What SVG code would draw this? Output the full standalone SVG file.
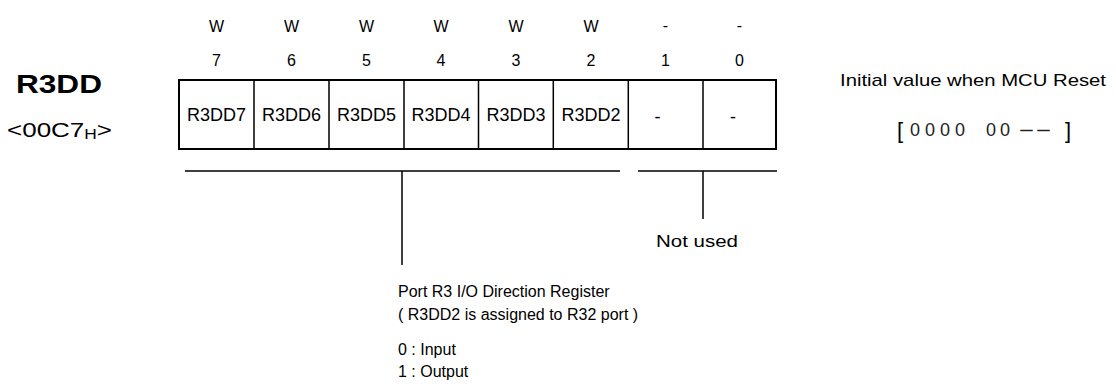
<svg xmlns="http://www.w3.org/2000/svg" width="1116" height="389" viewBox="0 0 1116 389">
<style>
text{font-family:"Liberation Sans",Arial,sans-serif;fill:#000}
.hdr{font-size:16px;text-anchor:middle}
.cell{font-size:18px;text-anchor:middle}
.lbl{font-size:16px}
.ln{stroke:#000;stroke-width:1.5;fill:none}
.box{stroke:#000;stroke-width:2;fill:#fff}
.val{font-size:18px;fill:#222}
</style>
<rect width="1116" height="389" fill="#fff"/>
<g id="title">
<text x="16" y="93" font-size="26" font-weight="bold" textLength="86" lengthAdjust="spacingAndGlyphs">R3DD</text>
<text x="7" y="137" font-size="21" textLength="105" lengthAdjust="spacingAndGlyphs">&lt;00C7<tspan font-size="14" dy="2">H</tspan><tspan dy="-2">&gt;</tspan></text>
</g>
<g id="access">
<text class="hdr" x="216.5" y="32">W</text>
<text class="hdr" x="291.5" y="32">W</text>
<text class="hdr" x="366.5" y="32">W</text>
<text class="hdr" x="441" y="32">W</text>
<text class="hdr" x="516" y="32">W</text>
<text class="hdr" x="591" y="32">W</text>
<text class="hdr" x="665.5" y="31">-</text>
<text class="hdr" x="739.5" y="31">-</text>
</g>
<g id="bits">
<text class="hdr" x="216.5" y="66">7</text>
<text class="hdr" x="291.5" y="66">6</text>
<text class="hdr" x="366.5" y="66">5</text>
<text class="hdr" x="441" y="66">4</text>
<text class="hdr" x="516" y="66">3</text>
<text class="hdr" x="591" y="66">2</text>
<text class="hdr" x="665.5" y="66">1</text>
<text class="hdr" x="739.5" y="66">0</text>
</g>
<g id="register">
<rect class="box" x="179" y="80" width="597" height="69"/>
<path class="ln" d="M254 80V149M329 80V149M404 80V149M478.5 80V149M553.3 80V149M628.3 80V149M703 80V149" stroke-width="2"/>
<text class="cell" x="216.5" y="121">R3DD7</text>
<text class="cell" x="291.5" y="121">R3DD6</text>
<text class="cell" x="366.5" y="121">R3DD5</text>
<text class="cell" x="441" y="121">R3DD4</text>
<text class="cell" x="516" y="121">R3DD3</text>
<text class="cell" x="591" y="121">R3DD2</text>
<text class="cell" x="657.5" y="123">-</text>
<text class="cell" x="733" y="123">-</text>
</g>
<g id="initial">
<text x="840" y="86" font-size="17" textLength="266" lengthAdjust="spacingAndGlyphs">Initial value when MCU Reset</text>
<text x="897" y="138" font-size="22">[</text>
<text class="val" x="910" y="136" letter-spacing="5">0000</text>
<text class="val" x="986" y="136" letter-spacing="4">00</text>
<text class="val" x="1018" y="136" textLength="34" lengthAdjust="spacingAndGlyphs">--</text>
<text x="1065" y="138" font-size="22">]</text>
</g>
<g id="connectors">
<path class="ln" d="M185 171H620M638 171H777M402 171V265M703 171V219"/>
</g>
<g id="notused">
<text x="656" y="247" font-size="17" textLength="82" lengthAdjust="spacingAndGlyphs">Not used</text>
</g>
<g id="desc">
<text class="lbl" x="398" y="297">Port R3 I/O Direction Register</text>
<text class="lbl" x="398" y="320">( R3DD2 is assigned to R32 port )</text>
<text class="lbl" x="398" y="355">0 : Input</text>
<text class="lbl" x="398" y="377">1 : Output</text>
</g>
</svg>
